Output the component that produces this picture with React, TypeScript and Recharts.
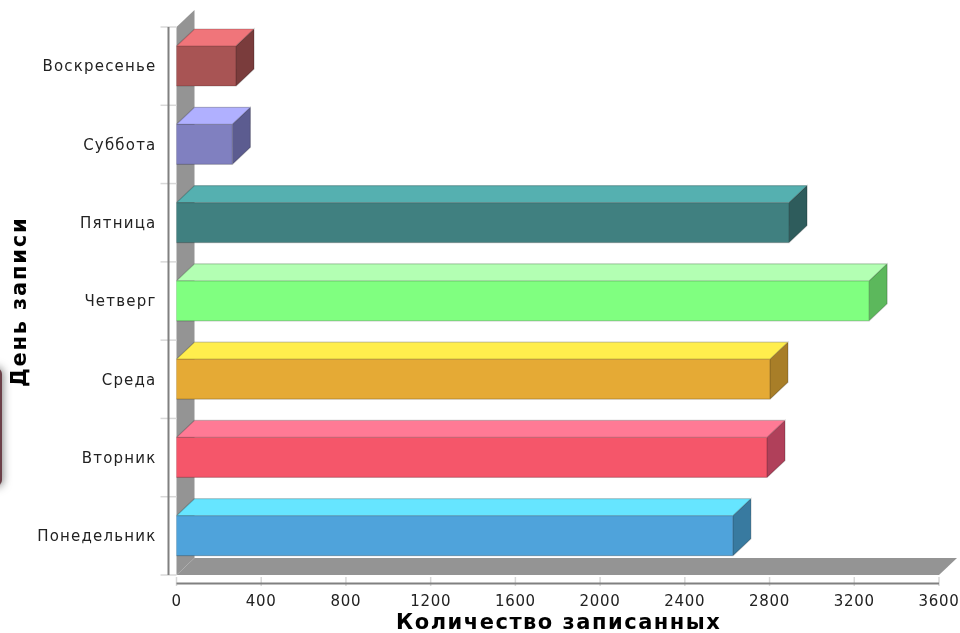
import { BarChart, Bar, XAxis, YAxis, ReferenceArea } from "recharts";

const days = ["Понедельник", "Вторник", "Среда", "Четверг", "Пятница", "Суббота", "Воскресенье"];
const counts = [2627, 2788, 2802, 3270, 2892, 264, 281];
const xTicks = [0, 400, 800, 1200, 1600, 2000, 2400, 2800, 3200, 3600];

const faceColors = ["#4fa3db", "#f5566a", "#e5aa35", "#80ff80", "#408080", "#8080c0", "#a85454"];
const topColors = ["#66e5ff", "#ff7a95", "#ffee4d", "#b3ffb3", "#55b0b0", "#b0b0ff", "#f0757a"];
const sideColors = ["#387aa0", "#b0405a", "#a87e28", "#5cb85c", "#2e5c5c", "#5c5c90", "#7a3c3c"];

const data = days.map((day, i) => ({ day, count: counts[i] }));

const DX = 18;
const DY = 17;
const WALL = "#949494";
const AXIS = "#808080";
const TICK = "#d8d8d8";

function Walls({ x, y, width, height }: any) {
  const bottom = y + height;
  const right = x + width;
  const band = height / days.length;
  return (
    <g>
      <polygon points={`${x},${y} ${x + DX},${y - DY} ${x + DX},${bottom - DY} ${x},${bottom}`} fill={WALL} />
      <polygon points={`${x},${bottom} ${x + DX},${bottom - DY} ${right + DX},${bottom - DY} ${right},${bottom}`} fill={WALL} />
      {days.map((_, i) => (
        <line key={i} x1={x - 16} x2={x} y1={y + band * i} y2={y + band * i} stroke={TICK} strokeWidth={1.5} />
      ))}
      <line x1={x - 16} x2={x} y1={bottom} y2={bottom} stroke={TICK} strokeWidth={1.5} />
      {xTicks.map((t) => {
        const tx = x + (t / 3600) * width;
        return <line key={t} x1={tx} x2={tx} y1={bottom + 2} y2={bottom + 11} stroke={TICK} strokeWidth={1.5} />;
      })}
      <line x1={x - 8} x2={x - 8} y1={y} y2={bottom} stroke={AXIS} strokeWidth={2} />
      <line x1={x} x2={right} y1={bottom + 8.5} y2={bottom + 8.5} stroke={AXIS} strokeWidth={2} />
    </g>
  );
}

function Box3D({ x, y, width, height, index }: any) {
  return (
    <g>
      <polygon
        points={`${x},${y} ${x + DX},${y - DY} ${x + width + DX},${y - DY} ${x + width},${y}`}
        fill={topColors[index]}
      />
      <polygon
        points={`${x + width},${y} ${x + width + DX},${y - DY} ${x + width + DX},${y + height - DY} ${x + width},${y + height}`}
        fill={sideColors[index]}
      />
      <rect x={x} y={y} width={width} height={height} fill={faceColors[index]} />
      <path
        d={`M${x},${y} H${x + width} V${y + height} H${x} M${x + width},${y} l${DX},${-DY} v${height} l${-DX},${DY} M${x},${y} l${DX},${-DY} H${x + width + DX}`}
        fill="none"
        stroke="#000"
        strokeOpacity={0.2}
        strokeWidth={1.2}
      />
    </g>
  );
}

export default function App() {
  return (
    <div
      style={{
        position: "absolute",
        left: 0,
        top: 0,
        width: 960,
        height: 633,
        overflow: "hidden",
        background: "#fff",
        filter: "blur(0.4px)",
      }}
    >
      <div
        style={{
          position: "absolute",
          left: -10,
          top: 368,
          width: 12,
          height: 118,
          borderRadius: 6,
          background: "#6b4048",
          boxShadow: "0 0 9px 1px rgba(60,60,60,0.65)",
        }}
      />
      <BarChart
        width={960}
        height={633}
        data={data}
        layout="vertical"
        margin={{ top: 27, right: 21, bottom: 0, left: 0 }}
        style={{ fontFamily: "'DejaVu Sans', sans-serif" }}
      >
        <XAxis
          type="number"
          domain={[0, 3600]}
          ticks={xTicks}
          interval={0}
          height={58}
          axisLine={false}
          tickLine={false}
          tickMargin={14}
          tick={{ fontSize: 15, fill: "#222", letterSpacing: 0.7 }}
          label={{
            value: "Количество записанных",
            position: "insideBottom",
            offset: 4,
            dx: 1,
            style: { fontSize: 21, fontWeight: 700, fill: "#000", letterSpacing: 1.5 },
          }}
        />
        <YAxis
          type="category"
          dataKey="day"
          reversed
          width={176.5}
          axisLine={false}
          tickLine={false}
          tickMargin={14}
          interval={0}
          tick={{ fontSize: 15, fill: "#222", letterSpacing: 1.2 }}
          label={{
            value: "День записи",
            angle: -90,
            position: "insideLeft",
            offset: 0,
            dx: 19,
            dy: 86,
            style: { fontSize: 21, fontWeight: 700, fill: "#000", letterSpacing: 1.8 },
          }}
        />
        <ReferenceArea x1={0} x2={3600} ifOverflow="visible" shape={<Walls />} />
        <Bar dataKey="count" barSize={40} shape={<Box3D />} isAnimationActive={false} />
      </BarChart>
    </div>
  );
}
